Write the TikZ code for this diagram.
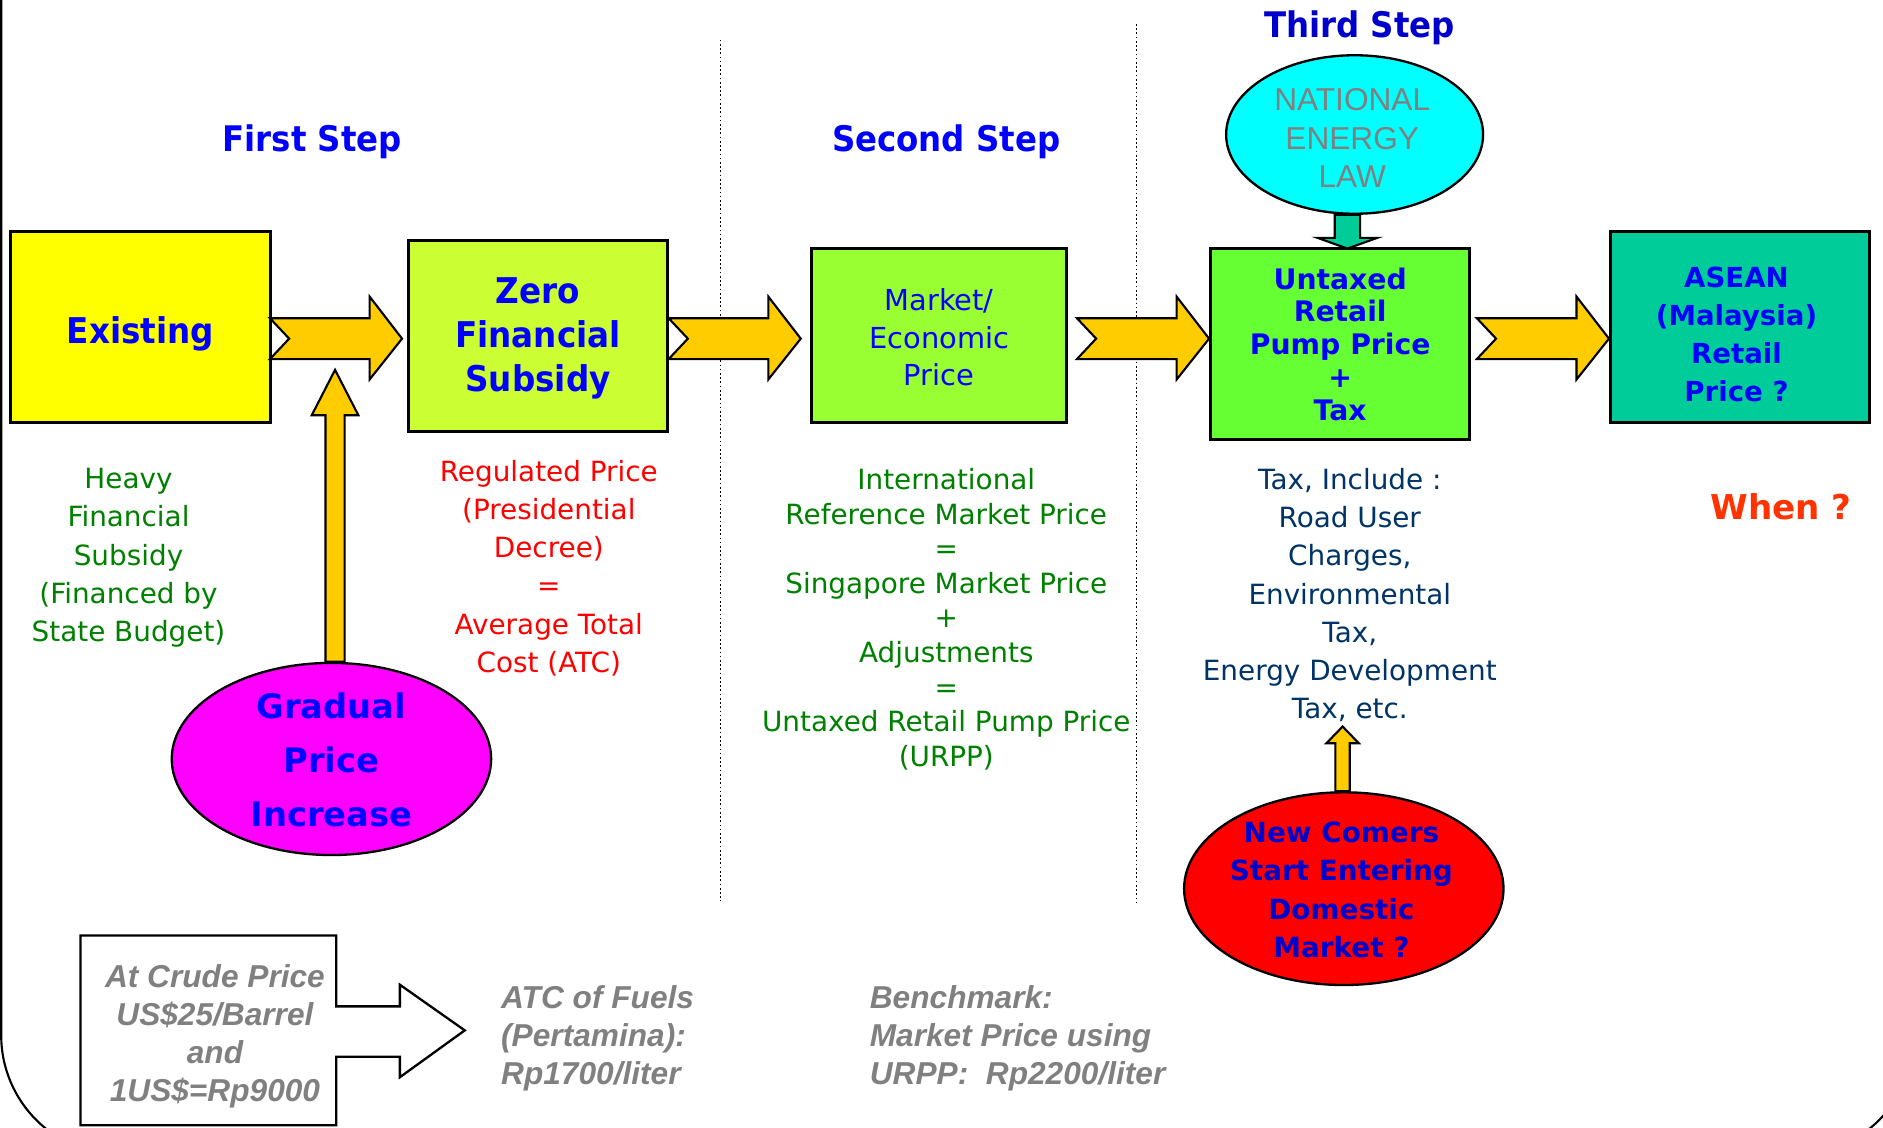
\documentclass[tikz,border=0pt]{standalone}
\usepackage{fontspec}
\setmainfont{DejaVu Sans}
\newfontfamily\tah{DejaVu Sans}[FakeStretch=0.92]
\newfontfamily\ari{Liberation Sans}
\usetikzlibrary{shapes.geometric,calc}
\definecolor{cyel}{HTML}{FFFF00}
\definecolor{czero}{HTML}{CCFF33}
\definecolor{cmkt}{HTML}{99FF33}
\definecolor{cunt}{HTML}{66FF33}
\definecolor{casean}{HTML}{00CC99}
\definecolor{carrow}{HTML}{FFCC00}
\definecolor{cmag}{HTML}{FF00FF}
\definecolor{ccyan}{HTML}{00FFFF}
\definecolor{cred}{HTML}{FF0000}
\definecolor{tblue}{HTML}{0000FF}
\definecolor{tdblue}{HTML}{0000CC}
\definecolor{tgreen}{HTML}{008000}
\definecolor{tred}{HTML}{FF0000}
\definecolor{tnavy}{HTML}{003366}
\definecolor{tgray}{HTML}{808080}
\definecolor{torange}{HTML}{FF3300}
\newcommand\varrow[6]{%
  \draw[#1] let \p1=(#2), \p2=(#3), \p3=($(#3)!#6!(#2)$) in
  (\x1-#4,\y1) -- (\x1-#4,\y3) -- (\x1-#5,\y3) -- (\x2,\y2) -- (\x1+#5,\y3)
  -- (\x1+#4,\y3) -- (\x1+#4,\y1) -- cycle;}
\tikzset{
  box/.style={draw=black, line width=1.4pt, inner sep=0pt},
  ell/.style={ellipse, draw=black, line width=1.1pt, inner sep=0pt},
  steptitle/.style={font=\tah\bfseries\fontsize{16.7}{20}\selectfont, text=tblue, inner sep=0pt},
  chevstyle/.style={draw=black, fill=carrow, line width=1pt, line join=miter},
  txt/.style={inner sep=0pt, align=center},
  regtext/.style={txt, font=\fontsize{13.2}{18.1}\selectfont},
  graytext/.style={inner sep=0pt, text=tgray, font=\ari\bfseries\itshape\fontsize{15}{18.1}\selectfont},
  sepline/.style={draw=black, line width=0.5pt, dash pattern=on 0.8pt off 1.2pt},
  pics/chev/.style={code={
    \draw[chevstyle] (-110,-17) -- (-27,-17) -- (-27,-35) -- (0,0) -- (-27,34)
      -- (-27,17) -- (-110,17) -- (-94,0) -- cycle;}}
}
\begin{document}
\begin{tikzpicture}[x=0.02cm,y=-0.02cm]
\useasboundingbox (0,0) rectangle (1568,939);
\begin{scope}
  \clip (0,0) rectangle (1568,939);
  \draw[line width=1pt, rounded corners=2cm] (1,-97) rectangle (1594,962);
\end{scope}

% separators
\coordinate (s1t) at (600,33); \coordinate (s1b) at (600,750);
\coordinate (s2t) at (946,20); \coordinate (s2b) at (946,752);
\draw[sepline] (s1t) -- (s1b);
\draw[sepline] (s2t) -- (s2b);

% titles
\node[steptitle] (t1) at (260,118) {First Step};
\node[steptitle] (t2) at (788,118) {Second Step};
\node[steptitle, text=tdblue] (t3) at (1132,23) {Third Step};

% boxes
\node[box, fill=cyel, minimum width=4.32cm, minimum height=3.18cm] (exist) at (117,272.5) {};
\node[txt, font=\tah\bfseries\fontsize{16.8}{20.8}\selectfont, text=tblue] (existt) at (117,278) {Existing};
\node[box, fill=czero, minimum width=4.32cm, minimum height=3.18cm] (zero) at (448,279.5) {};
\node[txt, font=\tah\bfseries\fontsize{16.8}{20.8}\selectfont, text=tblue] (zerot) at (448,281.5) {Zero\\Financial\\Subsidy};
\node[box, fill=cmkt, minimum width=4.24cm, minimum height=2.9cm] (mkt) at (782,279.5) {};
\node[txt, font=\fontsize{13.7}{17.8}\selectfont, text=tblue] (mktt) at (782,281) {Market/\\Economic\\Price};
\node[box, fill=cunt, minimum width=4.32cm, minimum height=3.18cm] (untax) at (1116,286.5) {};
\node[txt, font=\bfseries\fontsize{13.4}{15.5}\selectfont, text=tblue] (untaxt) at (1116,286.5) {Untaxed\\Retail\\Pump Price\\+\\Tax};
\node[box, fill=casean, minimum width=4.32cm, minimum height=3.18cm] (asean) at (1449,272.5) {};
\node[txt, font=\bfseries\fontsize{13.1}{18.1}\selectfont, text=tblue] (aseant) at (1446,278.5) {ASEAN\\(Malaysia)\\Retail\\Price ?};

% chevron arrows
\pic at ([xshift=-4*0.02cm]zero.west |- 0,282) {chev};
\pic at ([xshift=-8*0.02cm]mkt.west |- 0,282) {chev};
\pic at (untax.west |- 0,282) {chev};
\pic at (asean.west |- 0,282) {chev};

% ellipses
\node[ell, fill=cmag, minimum width=5.32cm, minimum height=3.2cm] (grad) at (276,632) {};
\node[txt, text=tblue, font=\bfseries\fontsize{16}{25.5}\selectfont] (gradt) at (276,633) {Gradual\\Price\\Increase};
\node[ell, fill=ccyan, minimum width=4.28cm, minimum height=2.64cm] (nel) at (1128,112) {};
\node[txt, text=tgray, font=\ari\fontsize{15}{18.1}\selectfont] (nelt) at (1126,115) {NATIONAL\\ENERGY\\LAW};
\node[ell, fill=cred, minimum width=5.32cm, minimum height=3.21cm] (newc) at (1119,740) {};
\node[txt, text=tdblue, font=\bfseries\fontsize{13.2}{18.1}\selectfont] (newct) at (1117,741) {New Comers\\Start Entering\\Domestic\\Market ?};

% vertical block arrows
\coordinate (gtip) at (279,308);
\varrow{chevstyle}{grad.north -| gtip}{gtip}{4.54pt}{11.05pt}{21.5pt}
\coordinate (ntip) at (1122,207);
\varrow{chevstyle, fill=casean}{nel.south -| ntip}{ntip}{6pt}{14.2pt}{5.1pt}
\coordinate (ctip) at (1118,605);
\varrow{chevstyle}{newc.north -| ctip}{ctip}{3.4pt}{7.65pt}{7.9pt}

% descriptive texts
\node[regtext, text=tgreen] (heavy) at (107,464.5) {Heavy\\Financial\\Subsidy\\(Financed by\\State Budget)};
\node[regtext, text=tred] (reg) at (457,473) {Regulated Price\\(Presidential\\Decree)\\=\\Average Total\\Cost (ATC)};
\node[regtext, text=tgreen, font=\fontsize{13.2}{16.4}\selectfont] (intl) at (788,515.5) {International\\Reference Market Price\\=\\Singapore Market Price\\+\\Adjustments\\=\\Untaxed Retail Pump Price\\(URPP)};
\node[regtext, text=tnavy] (taxt) at (1124,495.5) {Tax, Include :\\Road User\\Charges,\\Environmental\\Tax,\\Energy Development\\Tax, etc.};
\node[txt, text=torange, font=\bfseries\fontsize{16.2}{20}\selectfont] (when) at (1483,422) {When ?};

% bottom callout
\draw[line width=1.1pt, fill=white] (67,779) -- (280,779) -- (280,838) -- (333,838) -- (333,820)
  -- (387,858) -- (333,897) -- (333,880) -- (280,880) -- (280,937) -- (67,937) -- cycle;
\node[graytext, align=center] (crude) at (179,863) {At Crude Price\\US\$25/Barrel\\and\\1US\$=Rp9000};
\node[graytext, align=left, anchor=west] (atc) at (417,864.5) {ATC of Fuels\\(Pertamina):\\Rp1700/liter};
\node[graytext, align=left, anchor=west] (bench) at (724,864.5) {Benchmark:\\Market Price using\\URPP:~~Rp2200/liter};
\end{tikzpicture}
\end{document}
